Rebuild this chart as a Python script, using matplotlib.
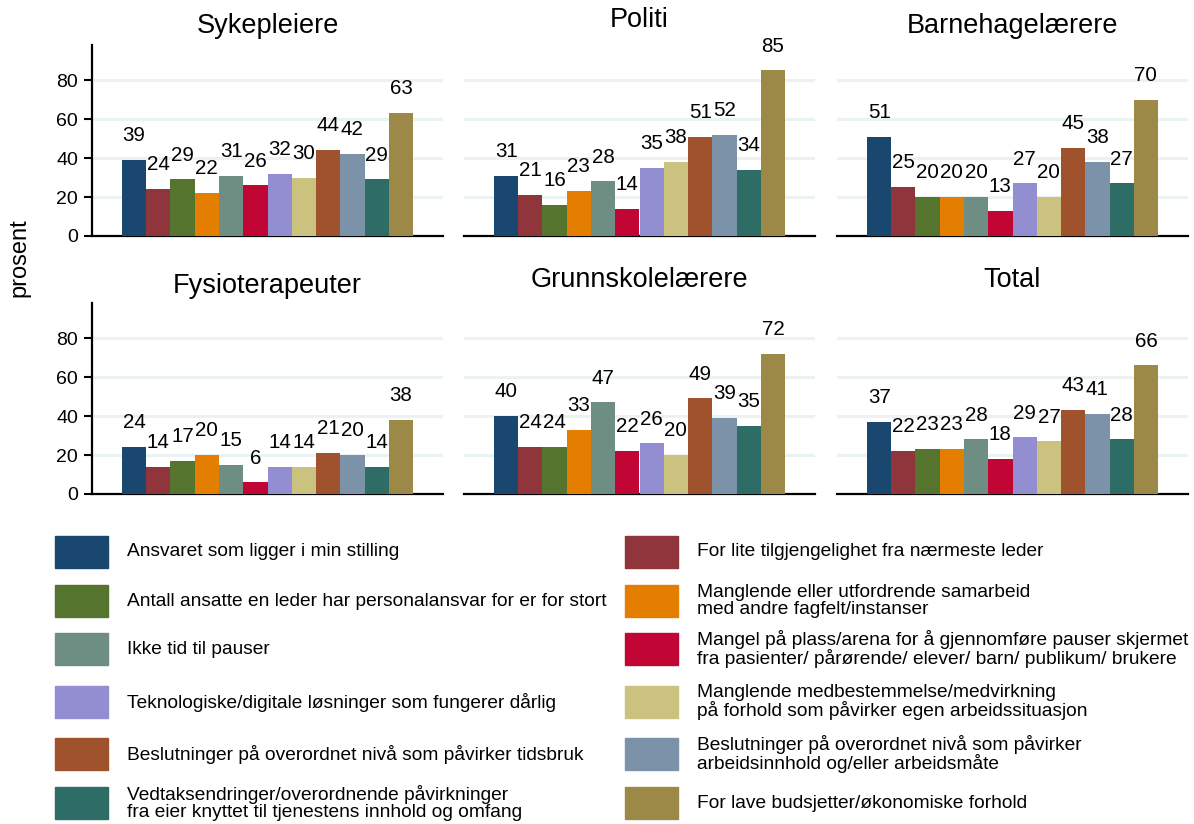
import numpy as np
import matplotlib
matplotlib.use("Agg")
import matplotlib.pyplot as plt
from matplotlib.patches import Rectangle

plt.rcParams['font.family'] = ['Liberation Sans', 'DejaVu Sans']

groups = ["Sykepleiere", "Politi", "Barnehagelærere",
          "Fysioterapeuter", "Grunnskolelærere", "Total"]

sykepleiere = [39, 24, 29, 22, 31, 26, 32, 30, 44, 42, 29, 63]
politi = [31, 21, 16, 23, 28, 14, 35, 38, 51, 52, 34, 85]
barnehage = [51, 25, 20, 20, 20, 13, 27, 20, 45, 38, 27, 70]
fysio = [24, 14, 17, 20, 15, 6, 14, 14, 21, 20, 14, 38]
grunnskole = [40, 24, 24, 33, 47, 22, 26, 20, 49, 39, 35, 72]
total = [37, 22, 23, 23, 28, 18, 29, 27, 43, 41, 28, 66]

categories = [
    "Ansvaret som ligger i min stilling",
    "For lite tilgjengelighet fra nærmeste leder",
    "Antall ansatte en leder har personalansvar for er for stort",
    "Manglende eller utfordrende samarbeid\nmed andre fagfelt/instanser",
    "Ikke tid til pauser",
    "Mangel på plass/arena for å gjennomføre pauser skjermet\nfra pasienter/ pårørende/ elever/ barn/ publikum/ brukere",
    "Teknologiske/digitale løsninger som fungerer dårlig",
    "Manglende medbestemmelse/medvirkning\npå forhold som påvirker egen arbeidssituasjon",
    "Beslutninger på overordnet nivå som påvirker tidsbruk",
    "Beslutninger på overordnet nivå som påvirker\narbeidsinnhold og/eller arbeidsmåte",
    "Vedtaksendringer/overordnende påvirkninger\nfra eier knyttet til tjenestens innhold og omfang",
    "For lave budsjetter/økonomiske forhold",
]

# stata s2color order
colors = ["#1a476f", "#90353b", "#55752f", "#e37e00", "#6e8e84", "#c10534",
          "#938dd2", "#cac27e", "#a0522d", "#7b92a8", "#2d6d66", "#9c8847"]

yticks = [0, 20, 40, 60, 80]

data = [sykepleiere, politi, barnehage, fysio, grunnskole, total]

W, H = 1194, 824
fig = plt.figure(figsize=(W / 100, H / 100), dpi=100)

# panel layout in pixels: (left, top) of each axes
col_x = [92, 464, 837]
row_top = [45, 303]
ax_w, ax_h = 351, 191
# stata pushes the title up when a label reaches high
title_pad = [8.5, 13, 8.5, 7, 11.5, 11.5]

x = np.arange(len(categories))
for i, (name, vals) in enumerate(zip(groups, data)):
    r, c = divmod(i, 3)
    left = col_x[c] / W
    bottom = 1 - (row_top[r] + ax_h) / H
    ax = fig.add_axes([left, bottom, ax_w / W, ax_h / H])
    ax.bar(x, vals, width=1.0, color=colors, zorder=3)
    for xi, v in zip(x, vals):
        ax.annotate(str(v), (xi, v), xytext=(0, 17.5), textcoords="offset points",
                    ha="center", va="center", fontsize=14.8, zorder=4)
    ax.set_ylim(0, 98)
    ax.set_xlim(-0.5 - 1.237, 11.5 + 1.237)
    ax.set_yticks(yticks)
    ax.set_xticks([])
    for g in yticks[1:]:
        ax.axhline(g, color="#eaf2f3", lw=2.2, zorder=1)
    for s in ["top", "right"]:
        ax.spines[s].set_visible(False)
    ax.spines["bottom"].set_linewidth(1.6)
    if c == 0:
        ax.spines["left"].set_linewidth(1.6)
        ax.tick_params(axis="y", length=6, width=1.5, pad=4, labelsize=14)
    else:
        ax.spines["left"].set_visible(False)
        ax.tick_params(axis="y", length=0, labelleft=False)
    ax.set_title(name, fontsize=19.5, pad=title_pad[i])

fig.text(19 / W, 1 - 258 / H, "prosent", rotation=90, ha="center", va="center", fontsize=17)

# legend, two columns, drawn in pixel coordinates
lg = fig.add_axes([0, 0, 1, 1])
lg.set_xlim(0, W)
lg.set_ylim(H, 0)
lg.axis("off")
rows_y = [552, 601, 649, 702, 754, 803]
patch_x = [55, 625]
text_x = [127, 697]
for k, (lab, col) in enumerate(zip(categories, colors)):
    row, cc = divmod(k, 2)
    yc = rows_y[row]
    lg.add_patch(Rectangle((patch_x[cc], yc - 16), 53, 32, color=col))
    lg.text(text_x[cc], yc, lab, ha="left", va="center", fontsize=13.8, linespacing=1.0)

fig.savefig("out.png", dpi=100)
